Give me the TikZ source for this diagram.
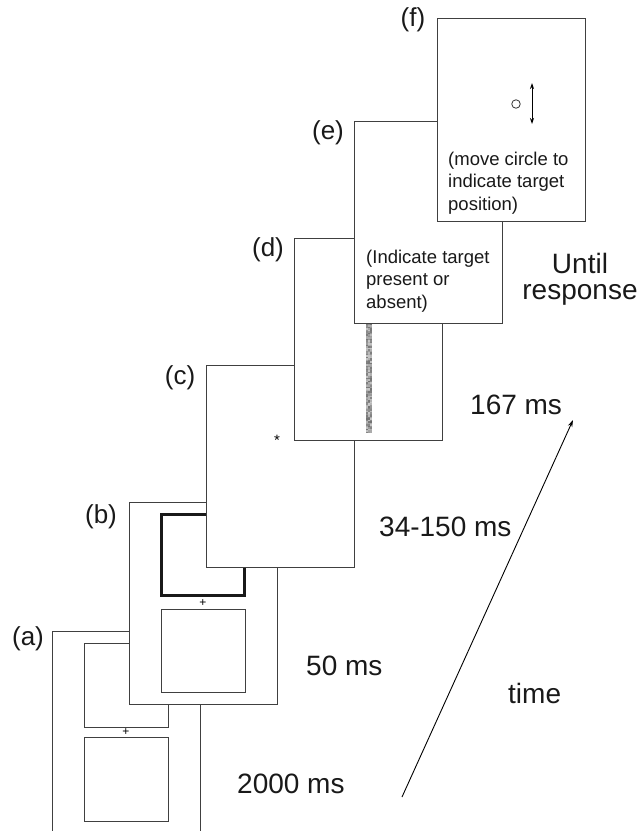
\documentclass[tikz,border=0pt]{standalone}
\usepackage{fontspec}
\setmainfont{Liberation Sans}
\usetikzlibrary{arrows.meta}
\tikzset{
  frame/.style={draw=black!75, line width=0.9pt, fill=white, minimum width=148pt, minimum height=202pt, anchor=north west, inner sep=0pt, outer sep=0pt},
  sq/.style={draw=black!75, line width=0.9pt, fill=white, minimum width=84pt, minimum height=84pt, anchor=north west, inner sep=0pt, outer sep=0pt},
  thicksq/.style={sq, draw=black!90, line width=3pt},
  flabel/.style={font=\fontsize{26}{30}\selectfont, inner sep=0pt, text=black!90},
  tlabel/.style={font=\fontsize{28}{32}\selectfont, inner sep=0pt, anchor=base west, text=black!90},
  itext/.style={font=\fontsize{18.5}{22.5}\selectfont, inner sep=0pt, anchor=base west, text=black!90},
  smallmark/.style={font=\fontsize{12}{13}\selectfont, inner sep=0pt},
  arr/.style={line width=0.9pt, -{Stealth[length=7pt,width=4.5pt]}},
  darr/.style={line width=0.9pt, {Stealth[length=6pt,width=4pt]}-{Stealth[length=6pt,width=4pt]}}
}
\begin{document}
\begin{tikzpicture}[x=1pt,y=-1pt]
\useasboundingbox (0,0) rectangle (644,831);
\clip (0,0) rectangle (644,831);
% (a)
\node[frame, minimum height=230pt] (fa) at (52,631) {};
\node[sq] (fa1) at (84,643) {};
\node[smallmark] (pa) at (126,732.5) {+};
\node[sq] (fa2) at (84,737) {};
\node[flabel] (la) at (28,639) {(a)};
% (b)
\node[frame] (fb) at (129,502) {};
\node[thicksq, minimum width=83pt, minimum height=81pt] (fb1) at (161.5,514.5) {};
\node[smallmark] (pb) at (203,603) {+};
\node[sq, minimum height=83pt] (fb2) at (161,609) {};
\node[flabel] (lb) at (101,517) {(b)};
% (c)
\node[frame] (fc) at (206,365) {};
\node[smallmark, font=\fontsize{15}{16}\selectfont] (ac) at (277,440) {*};
\node[flabel] (lc) at (180,378) {(c)};
% (d)
\node[frame] (fd) at (294,238) {};
\pgfmathsetseed{7}
\foreach \yy in {310,311.5,...,432}{
  \foreach \xx in {365.5,367.5,369.5}{
    \pgfmathsetmacro\g{random(22,55)}
    \fill[black!\g] (\xx,\yy) rectangle (\xx+2,\yy+1.5);
  }
}
\node[flabel] (ld) at (268,250) {(d)};
% (e)
\node[frame] (fe) at (354,121) {};
\node[itext] (e1) at (366,263) {(Indicate target};
\node[itext] (e2) at (366,285.5) {present or};
\node[itext] (e3) at (366,308) {absent)};
\node[flabel] (le) at (328,133) {(e)};
% (f)
\node[frame, minimum height=203pt] (ff) at (437,18) {};
\node[draw=black!80, line width=0.8pt, circle, minimum size=8.5pt, inner sep=0pt] (cf) at (516,104) {};
\coordinate (fu) at (532,83);
\coordinate (fdn) at (532,124);
\draw[darr] (fu) -- (fdn);
\node[itext] (f1) at (448,165) {(move circle to};
\node[itext] (f2) at (448,187.5) {indicate target};
\node[itext] (f3) at (448,210) {position)};
\node[flabel] (lf) at (413,20) {(f)};
% durations
\node[tlabel] (t2000) at (237,793) {2000 ms};
\node[tlabel] (t50) at (306,675) {50 ms};
\node[tlabel] (t34) at (379,536) {34-150 ms};
\node[tlabel] (t167) at (470,414) {167 ms};
\node[tlabel, anchor=base] (tu1) at (580,273) {Until};
\node[tlabel, anchor=base] (tu2) at (580,299) {response};
\node[tlabel] (ttime) at (508,703) {time};
% time arrow
\coordinate (ta) at (402,797);
\coordinate (tb) at (573,420);
\draw[arr] (ta) -- (tb);
\end{tikzpicture}
\end{document}
